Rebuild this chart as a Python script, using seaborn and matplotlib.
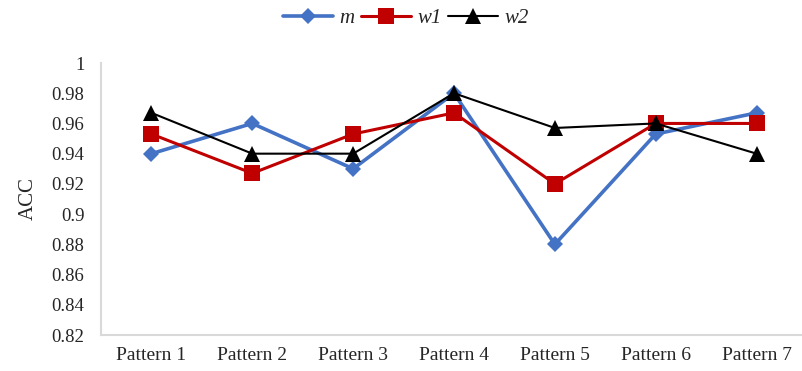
import matplotlib
matplotlib.use("Agg")
import matplotlib.pyplot as plt
import matplotlib.transforms as mtransforms
import seaborn as sns
import pandas as pd

categories = ["Pattern 1", "Pattern 2", "Pattern 3", "Pattern 4", "Pattern 5", "Pattern 6", "Pattern 7"]
m_vals = [0.940, 0.960, 0.930, 0.980, 0.880, 0.953, 0.967]
w1_vals = [0.953, 0.927, 0.953, 0.967, 0.920, 0.960, 0.960]
w2_vals = [0.967, 0.940, 0.940, 0.980, 0.957, 0.960, 0.940]
series_names = ["m", "w1", "w2"]
yticks = [0.82, 0.84, 0.86, 0.88, 0.9, 0.92, 0.94, 0.96, 0.98, 1]
ytick_labels = ["0.82", "0.84", "0.86", "0.88", "0.9", "0.92", "0.94", "0.96", "0.98", "1"]

sns.set_style("white")
plt.rcParams["font.family"] = ["Liberation Serif", "DejaVu Serif"]

df = pd.DataFrame({
    "Pattern": categories * 3,
    "ACC": m_vals + w1_vals + w2_vals,
    "series": [s for s in series_names for _ in categories],
})
df["x"] = [i for _ in series_names for i in range(len(categories))]

fig = plt.figure(figsize=(8.03, 3.71), dpi=100)
ax = fig.add_axes([101 / 803, 36 / 371, 706 / 803, 272 / 371])

palette = {"m": "#4472C4", "w1": "#C00000", "w2": "#000000"}
markers = {"m": "D", "w1": "s", "w2": "^"}
sizes = {"m": 8.5, "w1": 11, "w2": 11}
widths = {"m": 2.6, "w1": 2.2, "w2": 1.5}

for s in series_names:
    sns.lineplot(data=df[df["series"] == s], x="x", y="ACC", ax=ax,
                 color=palette[s], marker=markers[s], markersize=sizes[s],
                 markeredgewidth=0, linewidth=widths[s], label=s)

ax.set_xlim(-0.5, 6.5)
ax.set_ylim(0.82, 1.0)
ax.set_yticks(yticks)
ax.set_yticklabels(ytick_labels, fontsize=13.5)
ax.set_xticks(range(len(categories)))
ax.set_xticklabels(categories, fontsize=14)
offset = mtransforms.ScaledTranslation(-8 / 100, 0, fig.dpi_scale_trans)
for lab in ax.get_xticklabels():
    lab.set_transform(lab.get_transform() + offset)
ax.tick_params(axis="both", length=0)
ax.tick_params(axis="x", pad=9)
ax.tick_params(axis="y", pad=12)
ax.set_xlabel("")
ax.set_ylabel("ACC", fontsize=15, labelpad=10)

for side in ["top", "right"]:
    ax.spines[side].set_visible(False)
for side in ["left", "bottom"]:
    ax.spines[side].set_color("#d9d9d9")
    ax.spines[side].set_linewidth(1.5)

ax.legend(loc="center", bbox_to_anchor=(406 / 803, 1 - 18 / 371), bbox_transform=fig.transFigure,
          ncol=3, frameon=False, prop={"family": "Liberation Serif", "style": "italic", "size": 15},
          handlelength=2.4, handletextpad=0.3, columnspacing=0.3, markerscale=1.0)

fig.savefig("out.png", dpi=100)
